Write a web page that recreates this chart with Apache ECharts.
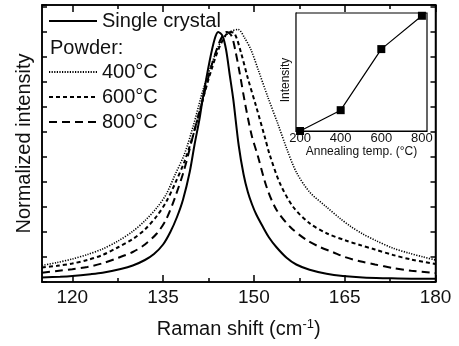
<!DOCTYPE html>
<html>
<head>
<meta charset="utf-8">
<script src="https://cdn.jsdelivr.net/npm/echarts@6/dist/echarts.min.js"></script>
<style>
html,body{margin:0;padding:0;background:#fff;}
#c{width:459px;height:346px;}
</style>
</head>
<body>
<div id="c"></div>
<script>
// ---- Main chart data (Raman shift cm^-1, normalized intensity) ----
const singleCrystal = [
  [115,0.018],[118,0.021],[120,0.024],[123,0.031],[125,0.037],[128,0.052],[130,0.066],
  [132,0.088],[133.5,0.112],[135,0.15],[136.2,0.2],[137.3,0.26],[138.3,0.33],[139.4,0.44],
  [140.2,0.55],[141,0.65],[141.6,0.74],[142.7,0.885],[143.5,0.97],[144.1,1.0],[144.8,0.985],[145.4,0.93],
  [146.0,0.83],[146.6,0.73],[147.5,0.545],[148.3,0.43],[149.0,0.36],[149.7,0.31],[150.4,0.27],
  [151.5,0.22],[152.5,0.178],[153.7,0.14],[155.4,0.097],[157,0.07],[159.2,0.049],[162,0.033],
  [164.7,0.024],[168,0.018],[172,0.015],[176,0.013],[180,0.013]
];
const powder400 = [
  [115,0.066],[117.5,0.078],[120,0.092],[122.5,0.11],[125,0.132],[127.5,0.163],[130,0.203],
  [132,0.245],[134,0.298],[135.5,0.35],[137,0.43],[138.5,0.51],[140,0.625],[141.5,0.76],
  [143,0.87],[144.5,0.96],[146,1.0],[147.4,1.01],[148.5,0.975],[149.5,0.93],[150.7,0.85],
  [152.3,0.74],[154.0,0.63],[155.4,0.535],[157.0,0.44],[159.2,0.36],[162.0,0.30],[164.2,0.255],
  [166,0.222],[168,0.192],[170.2,0.165],[173,0.135],[175.7,0.115],[178,0.1],[180,0.088]
];
const powder600 = [
  [115,0.058],[117.5,0.065],[120,0.074],[122.5,0.088],[125,0.108],[127.5,0.138],[130,0.172],
  [132,0.21],[134,0.265],[135.5,0.32],[137,0.395],[138.5,0.48],[140,0.59],[141.5,0.725],
  [143,0.85],[144.5,0.95],[146,1.0],[146.8,0.995],[147.9,0.915],[149.0,0.815],[150.4,0.7],
  [151.8,0.58],[152.6,0.51],[154.3,0.395],[156.5,0.3],[159.2,0.235],[162,0.195],[165.3,0.165],
  [167.5,0.148],[170,0.13],[173,0.108],[176,0.09],[180,0.072]
];
const powder800 = [
  [115,0.037],[117.5,0.044],[120,0.051],[122.5,0.06],[125,0.075],[127.5,0.096],[130,0.12],
  [132,0.15],[134,0.195],[135.5,0.25],[137,0.34],[138.5,0.45],[140,0.59],[141.5,0.725],
  [143,0.865],[144.5,0.97],[145.5,1.0],[146.3,0.985],[146.9,0.93],[147.7,0.83],[148.5,0.72],
  [149.6,0.59],[150.7,0.5],[152.1,0.38],[153.7,0.29],[156,0.22],[158.7,0.168],[160.9,0.14],
  [163,0.12],[165,0.1],[167.5,0.083],[170,0.07],[173,0.056],[176,0.045],[180,0.036]
];
const seriesNames = ['Single crystal','400°C','600°C','800°C'];
const xMajorTicks = [120,135,150,165,180];
const xMinorTicks = [127.5,142.5,157.5,172.5];

// ---- Inset data ----
const annealTemps = [200,400,600,800];
const insetIntensity = [0,1.5,5.9,8.3];
const insetXLabels = [200,400,600,800];
const insetXTicks = [200,300,400,500,600,700,800];

const FONT = 'Liberation Sans, Arial, sans-serif';
const chart = echarts.init(document.getElementById('c'), null, {renderer:'canvas'});

const black = '#000';
const mainGrid = {left:42, right:23.5, top:5, bottom:64, show:true, borderColor:black, borderWidth:1.5, backgroundColor:'transparent'};
const insetGrid = {left:296, top:13, width:131, height:118, show:true, borderColor:black, borderWidth:1.2, backgroundColor:'#fff', z:5};

function hidden(){ return {show:false}; }
const legendItemStyle = {color:'rgba(0,0,0,0)', borderColor:'rgba(0,0,0,0)', borderWidth:0, opacity:0};

function curve(name, data, width, type){
  return {name:name, type:'line', xAxisIndex:0, yAxisIndex:0, data:data, smooth:0.3,
    symbol:'none', lineStyle:{color:black, width:width, type:type}, itemStyle:{color:black}};
}

const option = {
  animation:false,
  backgroundColor:'#fff',
  textStyle:{fontFamily:FONT, color:'#000'},
  grid:[mainGrid, insetGrid],
  title:{text:'Powder:', left:45, top:33, textStyle:{fontFamily:FONT, fontSize:20, fontWeight:'normal', color:'#111'}},
  legend:[
    {data:[seriesNames[0]], left:48, top:11, padding:0, itemWidth:48, itemHeight:14, orient:'vertical',
     itemStyle:legendItemStyle,
     textStyle:{fontFamily:FONT, fontSize:20, color:'#111'}},
    {data:seriesNames.slice(1), left:48, top:62, padding:0, itemWidth:48, itemHeight:14, itemGap:5, orient:'vertical',
     itemStyle:legendItemStyle,
     textStyle:{fontFamily:FONT, fontSize:20, color:'#111', lineHeight:20}}
  ],
  xAxis:[
    {gridIndex:0, type:'value', min:115, max:180, position:'bottom',
     axisLine:{show:true, onZero:false, lineStyle:{color:black, width:1.5}},
     axisTick:{show:true, inside:true, length:7, customValues:xMajorTicks, lineStyle:{color:black, width:1.5}},
     axisLabel:{show:true, customValues:xMajorTicks, margin:6, fontFamily:FONT, fontSize:19, color:'#111'},
     splitLine:hidden(),
     name:'Raman shift (cm{sup|-1})', nameLocation:'middle', nameGap:36,
     nameTextStyle:{fontFamily:FONT, fontSize:20, color:'#111', rich:{sup:{fontFamily:FONT, fontSize:13, color:'#111', padding:[0,0,9,0]}}}
    },
    {gridIndex:0, type:'value', min:115, max:180, position:'top',
     axisLine:{show:true, onZero:false, lineStyle:{color:black, width:1.5}},
     axisTick:{show:true, inside:true, length:7, customValues:xMajorTicks, lineStyle:{color:black, width:1.5}},
     axisLabel:hidden(), splitLine:hidden()},
    {gridIndex:0, type:'value', min:115, max:180, position:'bottom',
     axisLine:{show:false, onZero:false},
     axisTick:{show:true, inside:true, length:4, customValues:xMinorTicks, lineStyle:{color:black, width:1.5}},
     axisLabel:hidden(), splitLine:hidden()},
    {gridIndex:0, type:'value', min:115, max:180, position:'top',
     axisLine:{show:false, onZero:false},
     axisTick:{show:true, inside:true, length:4, customValues:xMinorTicks, lineStyle:{color:black, width:1.5}},
     axisLabel:hidden(), splitLine:hidden()},
    {gridIndex:1, type:'value', min:180, max:825, position:'bottom',
     axisLine:{show:true, onZero:false, lineStyle:{color:black, width:1.2}},
     axisTick:{show:true, inside:true, length:3, customValues:insetXTicks, lineStyle:{color:black, width:1}},
     axisLabel:{show:true, customValues:insetXLabels, margin:1, fontFamily:FONT, fontSize:13, color:'#111'},
     splitLine:hidden(),
     name:'Annealing temp. (°C)', nameLocation:'middle', nameGap:12,
     nameTextStyle:{fontFamily:FONT, fontSize:12, color:'#111'}
    }
  ],
  yAxis:[
    {gridIndex:0, type:'value', min:0, max:1.108, interval:0.1, position:'left',
     axisLine:{show:true, onZero:false, lineStyle:{color:black, width:1.5}},
     axisTick:{show:true, inside:true, length:5, lineStyle:{color:black, width:1.5}},
     axisLabel:hidden(), splitLine:hidden(),
     name:'Normalized intensity', nameLocation:'middle', nameGap:8,
     nameTextStyle:{fontFamily:FONT, fontSize:20, color:'#111'}
    },
    {gridIndex:0, type:'value', min:0, max:1.108, interval:0.1, position:'right',
     axisLine:{show:true, onZero:false, lineStyle:{color:black, width:1.5}},
     axisTick:{show:true, inside:true, length:5, lineStyle:{color:black, width:1.5}},
     axisLabel:hidden(), splitLine:hidden()},
    {gridIndex:1, type:'value', min:0, max:8.5, interval:1, position:'left',
     axisLine:{show:true, onZero:false, lineStyle:{color:black, width:1.2}},
     axisTick:{show:true, inside:true, length:3, lineStyle:{color:black, width:1}},
     axisLabel:hidden(), splitLine:hidden(),
     name:'Intensity', nameLocation:'middle', nameGap:4,
     nameTextStyle:{fontFamily:FONT, fontSize:12, color:'#111', padding:[0,16,0,0]}
    }
  ],
  series:[
    curve(seriesNames[0], singleCrystal, 2, 'solid'),
    curve(seriesNames[1], powder400, 1.6, [1.2,1.4]),
    curve(seriesNames[2], powder600, 2, [4,3]),
    curve(seriesNames[3], powder800, 2, [8,5]),
    {name:'inset', type:'line', xAxisIndex:4, yAxisIndex:2, z:6,
     data:annealTemps.map((t,i)=>[t, insetIntensity[i]]),
     symbol:'rect', symbolSize:8, lineStyle:{color:black, width:1.2}, itemStyle:{color:black}}
  ]
};
chart.setOption(option);
</script>
</body>
</html>
